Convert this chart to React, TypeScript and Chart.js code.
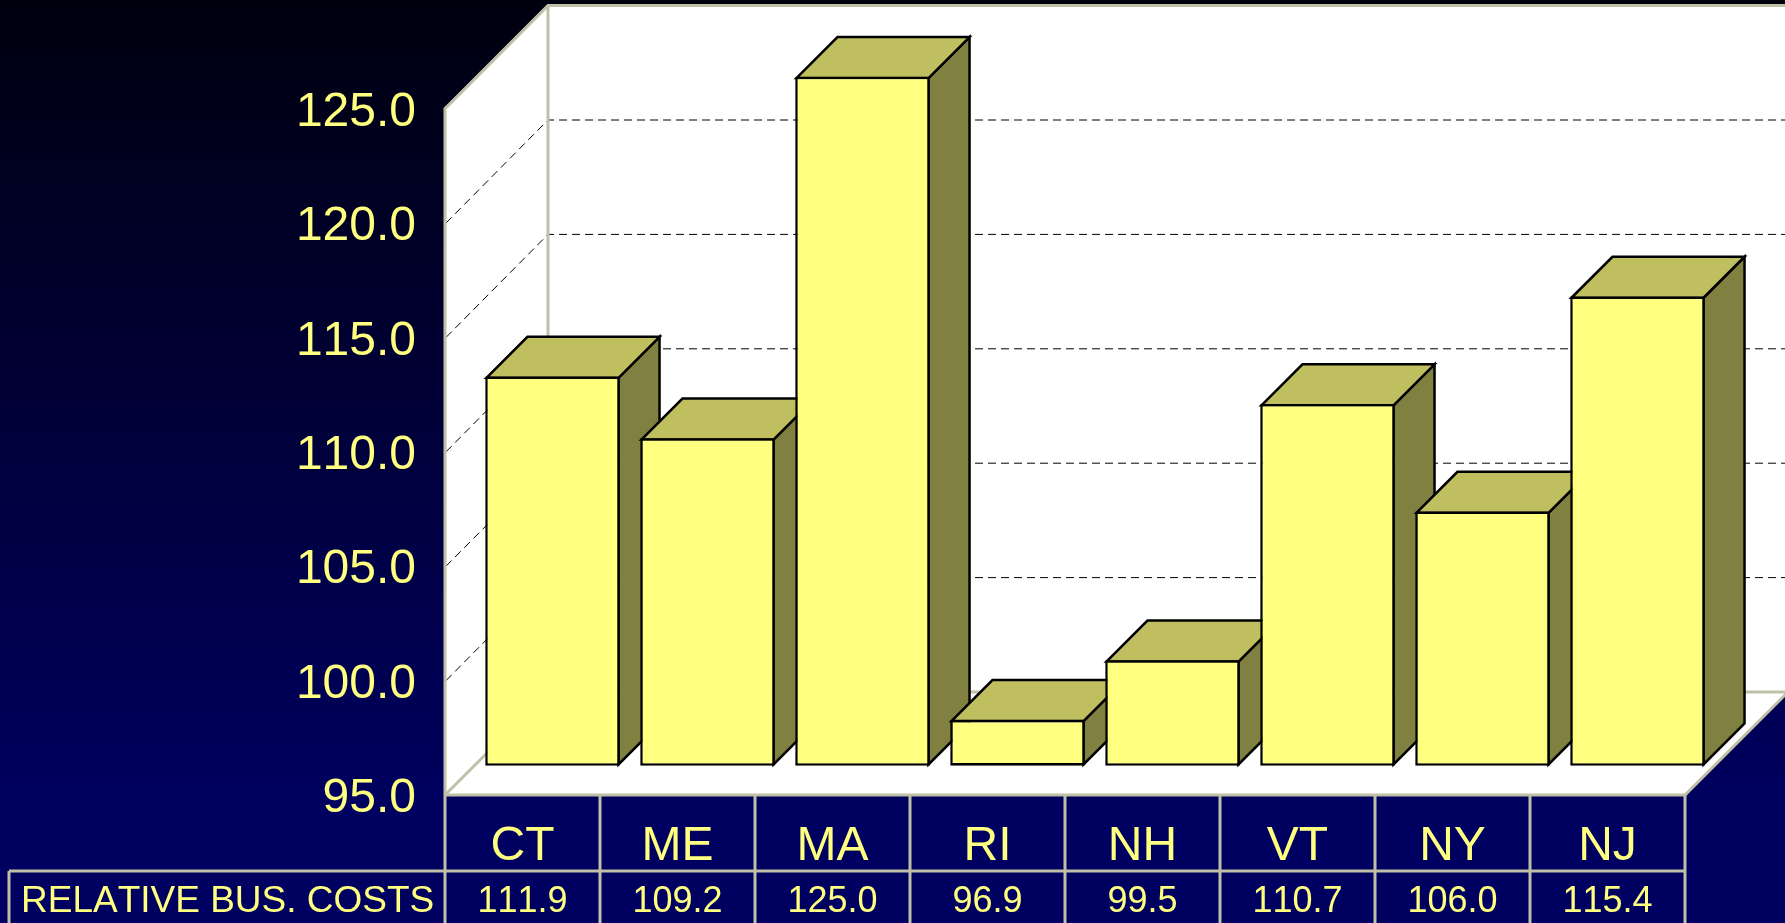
import React, { useEffect, useRef } from "react";
import { Chart, registerables } from "chart.js";

Chart.register(...registerables);

const categories = ["CT", "ME", "MA", "RI", "NH", "VT", "NY", "NJ"];
const costs = [111.9, 109.2, 125.0, 96.9, 99.5, 110.7, 106.0, 115.4];
const rowLabel = "RELATIVE BUS. COSTS";
const axisMin = 95;
const axisMax = 125;
const axisStep = 5;

const FONT = "'Liberation Sans', Arial, sans-serif";
const YELLOW = "#FFFF80";
const TOP = "#BFBF60";
const SIDE = "#808040";
const EDGE = "#C0C0A8";
const WALL = 103;
const BAR_SHIFT_X = 30;
const BAR_SHIFT_Y = 30.5;
const BAR_DEPTH = 41;
const ROW_Y = 871;
const TABLE_LEFT = 9;
const BAR_LINE = 2.5;

function poly(ctx: CanvasRenderingContext2D, pts: number[][], fill?: string, stroke?: string, lw = BAR_LINE) {
  ctx.beginPath();
  pts.forEach((p, i) => (i ? ctx.lineTo(p[0], p[1]) : ctx.moveTo(p[0], p[1])));
  ctx.closePath();
  if (fill) {
    ctx.fillStyle = fill;
    ctx.fill();
  }
  if (stroke) {
    ctx.strokeStyle = stroke;
    ctx.lineWidth = lw;
    ctx.lineJoin = "miter";
    ctx.stroke();
  }
}

function seg(ctx: CanvasRenderingContext2D, pts: number[][]) {
  ctx.beginPath();
  pts.forEach((p, i) => (i ? ctx.lineTo(p[0], p[1]) : ctx.moveTo(p[0], p[1])));
  ctx.stroke();
}

const scene3d = {
  id: "scene3d",
  beforeDraw(chart: any) {
    chart.ctx.fontKerning = "none";
  },
  beforeDatasetsDraw(chart: any) {
    const { ctx, chartArea: a, scales } = chart;
    const y = scales.y;
    const L = a.left, R = a.right, T = a.top, B = a.bottom;
    ctx.save();
    // walls and floor
    poly(ctx, [[L, T], [L + WALL, T - WALL], [R + WALL, T - WALL], [R + WALL, B - WALL], [R, B], [L, B]], "#FFFFFF");
    // grid lines on side and back wall
    ctx.lineWidth = 1;
    ctx.strokeStyle = "#000000";
    ctx.setLineDash([8, 5]);
    y.ticks.forEach((t: any) => {
      if (t.value === axisMin || t.value === axisMax) return;
      const py = y.getPixelForValue(t.value);
      seg(ctx, [[L + 1, py], [L + WALL, py - WALL], [R + WALL, py - WALL]]);
    });
    ctx.setLineDash([]);
    // wall edges
    ctx.strokeStyle = EDGE;
    ctx.lineWidth = 3;
    seg(ctx, [[L, B], [L, T], [L + WALL, T - WALL], [R + WALL, T - WALL]]);
    seg(ctx, [[L + WALL, T - WALL], [L + WALL, B - WALL], [R + WALL, B - WALL]]);
    seg(ctx, [[L, B], [L + WALL, B - WALL]]);
    seg(ctx, [[L, B], [R, B], [R + WALL, B - WALL]]);
    // bars, painted left to right with their depth faces
    const meta = chart.getDatasetMeta(0);
    meta.data.forEach((el: any) => {
      const p = el.getProps(["x", "y", "base", "width"], true);
      const x0 = p.x - p.width / 2 + BAR_SHIFT_X;
      const x1 = p.x + p.width / 2 + BAR_SHIFT_X;
      const yt = p.y - BAR_SHIFT_Y;
      const yb = p.base - BAR_SHIFT_Y;
      const d = BAR_DEPTH;
      poly(ctx, [[x1, yt], [x1 + d, yt - d], [x1 + d, yb - d], [x1, yb]], SIDE, "#000000");
      poly(ctx, [[x0, yt], [x0 + d, yt - d], [x1 + d, yt - d], [x1, yt]], TOP, "#000000");
      // the library's own bar, moved onto the depth plane; its border is
      // centred on the rectangle's outline like the faces' strokes
      const w = x1 - x0;
      const h = yb - yt;
      const cx = (x0 + x1) / 2;
      const cy = (yt + yb) / 2;
      ctx.save();
      ctx.translate(cx, cy);
      ctx.scale((w + BAR_LINE) / w, (h + BAR_LINE) / h);
      ctx.translate(-cx + BAR_SHIFT_X, -cy - BAR_SHIFT_Y);
      el.draw(ctx);
      ctx.restore();
    });
    ctx.restore();
    return false;
  },
  afterDraw(chart: any) {
    const { ctx, chartArea: a, scales, height } = chart;
    const x = scales.x;
    const step = (a.right - a.left) / categories.length;
    ctx.save();
    ctx.strokeStyle = EDGE;
    ctx.lineWidth = 3;
    seg(ctx, [[TABLE_LEFT, ROW_Y], [a.right + 1, ROW_Y]]);
    seg(ctx, [[TABLE_LEFT, ROW_Y], [TABLE_LEFT, height]]);
    for (let i = 0; i <= categories.length; i++) {
      const lx = a.left + step * i;
      seg(ctx, [[lx, a.bottom], [lx, height]]);
    }
    ctx.fillStyle = YELLOW;
    ctx.font = `36px ${FONT}`;
    ctx.textBaseline = "middle";
    ctx.textAlign = "center";
    costs.forEach((v, i) => {
      ctx.fillText(v.toFixed(1), x.getPixelForTick(i), 902);
    });
    ctx.font = `37px ${FONT}`;
    ctx.textAlign = "left";
    ctx.fillText(rowLabel, 21, 902);
    ctx.restore();
  },
};

export default function App() {
  const ref = useRef<HTMLCanvasElement>(null);
  useEffect(() => {
    const chart = new Chart(ref.current!, {
      type: "bar",
      data: {
        labels: categories,
        datasets: [
          {
            label: rowLabel,
            data: costs,
            base: axisMin,
            backgroundColor: YELLOW,
            borderColor: "#000000",
            borderWidth: BAR_LINE,
            borderSkipped: false,
            barPercentage: 0.852,
            categoryPercentage: 1,
          },
        ],
      },
      plugins: [scene3d],
      options: {
        responsive: false,
        animation: false,
        layout: { padding: { top: 108.6, right: 100, left: 0, bottom: 0 } },
        plugins: { legend: { display: false }, tooltip: { enabled: false }, title: { display: false } },
        scales: {
          x: {
            grid: { display: false, drawTicks: false },
            border: { display: false },
            afterFit: (s: any) => { s.height = 128; },
            ticks: {
              color: YELLOW,
              font: { family: FONT, size: 48 },
              padding: 23,
              autoSkip: false,
              maxRotation: 0,
              minRotation: 0,
            },
          },
          y: {
            min: axisMin,
            max: axisMax,
            grid: { display: false, drawTicks: false },
            border: { display: false },
            afterFit: (s: any) => { s.width = 445; },
            ticks: {
              color: YELLOW,
              stepSize: axisStep,
              font: { family: FONT, size: 48 },
              padding: 29,
              labelOffset: 4,
              callback: (v: any) => Number(v).toFixed(1),
            },
          },
        },
      },
    });
    return () => chart.destroy();
  }, []);
  return (
    <div
      style={{
        position: "fixed",
        inset: 0,
        background: "linear-gradient(180deg, #00000f 0%, #000060 88%, #000060 100%)",
      }}
    >
      <canvas ref={ref} width={1785} height={923} style={{ display: "block" }} />
    </div>
  );
}
